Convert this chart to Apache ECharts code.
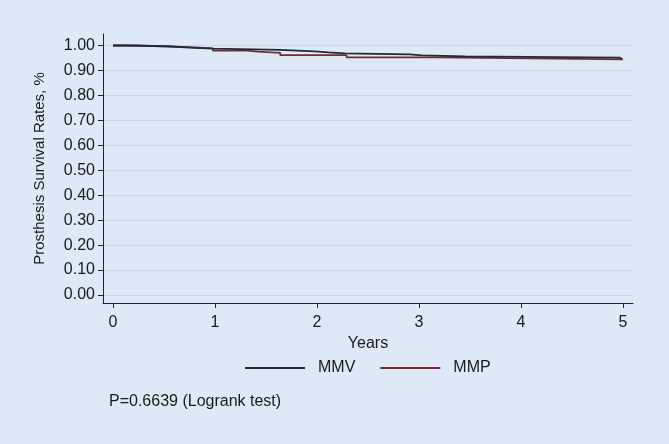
<!DOCTYPE html>
<html>
<head>
<meta charset="utf-8">
<script src="https://cdn.jsdelivr.net/npm/echarts@6/dist/echarts.min.js"></script>
<style>
html,body{margin:0;padding:0;background:#dde9f6;}
#chart{width:669px;height:444px;}
</style>
</head>
<body>
<div id="chart"></div>
<script>
// Kaplan-Meier step data: [years, survival]
const mmvTimes = [0, 0.10, 0.53, 0.75, 0.98, 1.64, 1.98, 2.11, 2.27, 2.91, 3.03, 3.45, 4.97, 4.99];
const mmvSurv  = [1.000, 0.997, 0.991, 0.987, 0.982, 0.976, 0.972, 0.968, 0.964, 0.960, 0.956, 0.951, 0.947, 0.947];
const mmpTimes = [0, 0.23, 0.75, 0.98, 1.32, 1.42, 1.64, 2.29, 3.18, 5.00];
const mmpSurv  = [1.000, 0.993, 0.988, 0.979, 0.975, 0.970, 0.961, 0.952, 0.944, 0.944];
const xTicks = [0, 1, 2, 3, 4, 5];
const yTicks = [0, 0.1, 0.2, 0.3, 0.4, 0.5, 0.6, 0.7, 0.8, 0.9, 1.0];
const seriesNames = ['MMV', 'MMP'];
const noteText = 'P=0.6639 (Logrank test)';
const X_MIN = -0.098, X_MAX = 5.098, Y_MIN = -0.032, Y_MAX = 1.046;

const zip = (a, b) => a.map((v, i) => [v, b[i]]);
const FONT = 'Liberation Sans, Arial, sans-serif';
const TXT = '#1a1a1a';
const GRID = '#c9d6e3';

const chart = echarts.init(document.getElementById('chart'), null, {renderer: 'canvas'});
chart.setOption({
  backgroundColor: '#dde9f6',
  animation: false,
  textStyle: {fontFamily: FONT, color: TXT},
  title: {
    text: noteText, left: 104, top: 389,
    textStyle: {fontFamily: FONT, fontSize: 16, fontWeight: 'normal', color: TXT}
  },
  legend: {
    data: seriesNames, left: 245, top: 360, itemWidth: 60, itemHeight: 2, itemGap: 25,
    icon: 'rect', padding: 0,
    textStyle: {fontFamily: FONT, fontSize: 16, color: TXT, padding: [0, 0, 0, 8]}
  },
  grid: {left: 103, right: 36, top: 34, bottom: 141, containLabel: false},
  xAxis: {
    type: 'value', min: X_MIN, max: X_MAX,
    name: 'Years', nameLocation: 'middle', nameGap: 27,
    nameTextStyle: {fontFamily: FONT, fontSize: 16, color: TXT},
    axisLine: {show: true, onZero: false, lineStyle: {color: '#222', width: 1}},
    axisTick: {show: true, length: 5, customValues: xTicks, lineStyle: {color: '#222'}},
    axisLabel: {customValues: xTicks, margin: 12, fontSize: 16, color: TXT, fontFamily: FONT},
    splitLine: {show: false}
  },
  yAxis: {
    type: 'value', min: Y_MIN, max: Y_MAX,
    name: 'Prosthesis Survival Rates, %', nameLocation: 'middle', nameGap: 56, nameRotate: 90,
    nameTextStyle: {fontFamily: FONT, fontSize: 15, color: TXT},
    axisLine: {show: true, onZero: false, lineStyle: {color: '#222', width: 1}},
    axisTick: {show: true, length: 5, customValues: yTicks, lineStyle: {color: '#222'}},
    axisLabel: {customValues: yTicks, margin: 8, fontSize: 16, color: TXT, fontFamily: FONT,
      formatter: v => v.toFixed(2)},
    splitLine: {show: true, lineStyle: {color: GRID, width: 1}}
  },
  series: [
    {
      name: seriesNames[0], type: 'line', step: 'end', symbol: 'none',
      data: zip(mmvTimes, mmvSurv), z: 3,
      lineStyle: {color: '#1c2b40', width: 1.8}, itemStyle: {color: '#1c2b40'},
      markLine: {silent: true, symbol: 'none', label: {show: false},
        lineStyle: {color: GRID, width: 1, type: 'solid'}, data: [{yAxis: Y_MAX}]}
    },
    {
      name: seriesNames[1], type: 'line', step: 'end', symbol: 'none',
      data: zip(mmpTimes, mmpSurv), z: 2,
      lineStyle: {color: '#7a2a2c', width: 1.8}, itemStyle: {color: '#7a2a2c'}
    }
  ]
});
</script>
</body>
</html>
